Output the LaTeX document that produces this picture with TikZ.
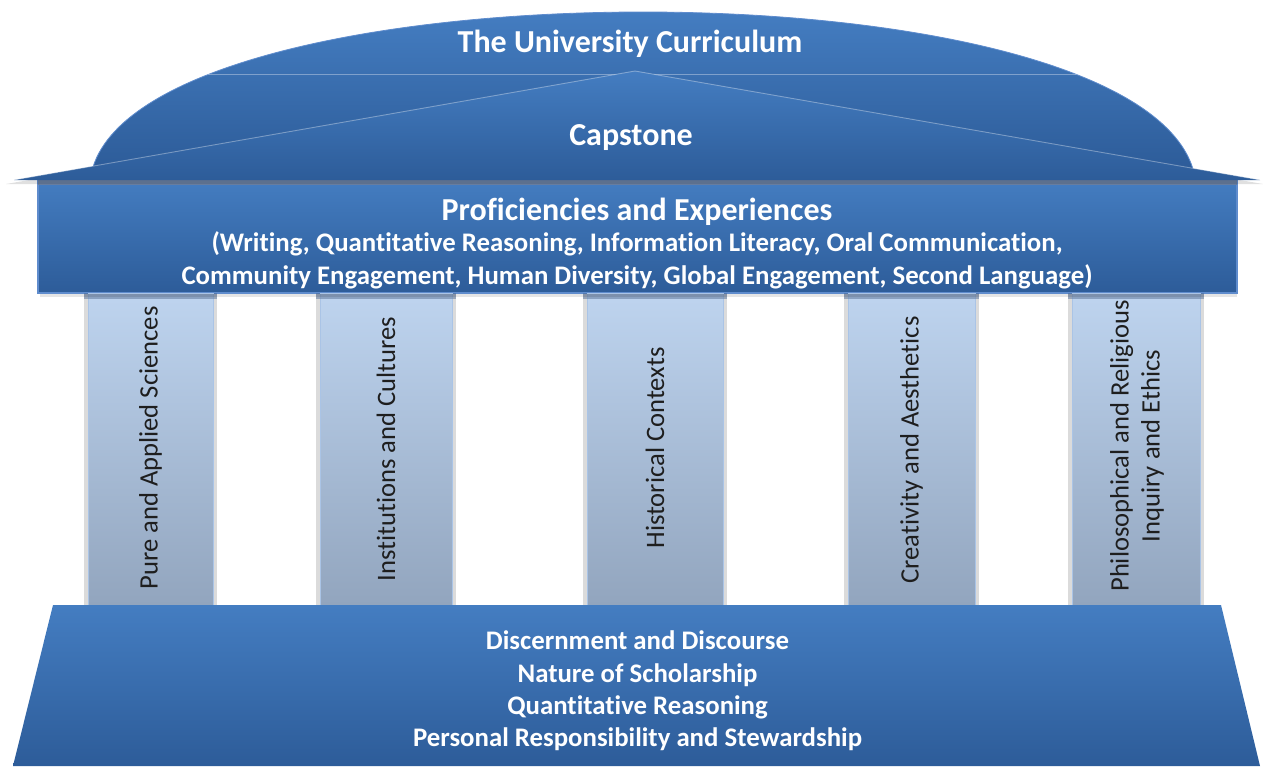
\documentclass[tikz,border=0pt]{standalone}
\usepackage{fontspec}
\setmainfont{Carlito}[Ligatures={NoCommon}]
\definecolor{topblue}{RGB}{68,125,193}
\definecolor{botblue}{RGB}{45,92,153}
\definecolor{pilltop}{RGB}{190,212,239}
\definecolor{pillbot}{RGB}{146,165,190}
\definecolor{edgeblue}{RGB}{95,140,205}
\definecolor{pilledge}{RGB}{170,196,230}
\definecolor{pilltext}{RGB}{30,30,30}
\definecolor{bandcol}{RGB}{105,128,162}
\begin{document}
\begin{tikzpicture}[x=1pt,y=-1pt,
  bluefill/.style={top color=topblue,bottom color=botblue},
  pillarbox/.style={top color=pilltop,bottom color=pillbot,draw=pilledge,line width=1},
  pillarshadow/.style={fill=black,opacity=0.14},
  whitebold/.style={text=white,font=\bfseries\fontsize{#1}{#1}\selectfont,inner sep=0},
  pillartext/.style={text=pilltext,rotate=90,align=center,inner sep=0,font=\fontsize{26.6}{31}\selectfont},
  lightline/.style={draw=white,draw opacity=0.35,line width=0.9}]
\useasboundingbox (0,0) rectangle (1263,766);

% dome
\path[bluefill,draw=edgeblue,line width=0.8]
  (93,167) .. controls (125,65) and (380,12) .. (643,12)
  .. controls (906,12) and (1161,65) .. (1193,169) -- cycle;
\begin{scope}
  \clip (93,167) .. controls (125,65) and (380,12) .. (643,12)
  .. controls (906,12) and (1161,65) .. (1193,169) -- cycle;
  \path[lightline] (0,74) -- (1263,74);
\end{scope}

% entablature box
\path[bluefill,draw=edgeblue,line width=1.2] (38,179) rectangle (1237,293);
\fill[bandcol] (38,179.5) rectangle (1237,185);
% roof shadow
\fill[black,opacity=0.12] (6,184) -- (635,76) -- (1263,184) -- cycle;
% roof
\path[bluefill] (14,180) -- (635,71) -- (1260,180) -- cycle;
\path[lightline] (14,180) -- (635,71) -- (1260,180);

% pillars
\foreach \xa/\xb in {88/213,320/452,587/723,848/975,1072/1200}{
  \fill[pillarshadow] (\xa-4,293) rectangle (\xb+4,605);
  \path[pillarbox] (\xa,293) rectangle (\xb,605);
  \fill[bandcol,opacity=0.6] (\xa-4,293.5) rectangle (\xb+4,299);
}
\fill[black,opacity=0.1] (40,293.5) rectangle (1237,297);

% base
\path[bluefill] (53,605) -- (1221,605) -- (1260,766) -- (13,766) -- cycle;

% texts
\node[whitebold=32] (title) at (630,44) {The University Curriculum};
\node[whitebold=32] (capstone) at (631,138) {Capstone};
\node[whitebold=32] (prof) at (637,212) {Proficiencies and Experiences};
\node[whitebold=26.8,align=center,font=\bfseries\fontsize{26.8}{33}\selectfont] (profsub) at (637,260.5)
  {(Writing, Quantitative Reasoning, Information Literacy, Oral Communication,\\
   Community Engagement, Human Diversity, Global Engagement, Second Language)};
\node[whitebold=26.8,align=center,font=\bfseries\fontsize{26.8}{32.4}\selectfont] (basetext) at (637.5,691)
  {Discernment and Discourse\\ Nature of Scholarship\\ Quantitative Reasoning\\ Personal Responsibility and Stewardship};

\node[pillartext] (p1) at (150.5,448) {Pure and Applied Sciences};
\node[pillartext] (p2) at (386,449) {Institutions and Cultures};
\node[pillartext] (p3) at (655,448) {Historical Contexts};
\node[pillartext] (p4) at (911.5,450) {Creativity and Aesthetics};
\node[pillartext] (p5) at (1137,446) {Philosophical and Religious\\ Inquiry and Ethics};
\end{tikzpicture}
\end{document}
